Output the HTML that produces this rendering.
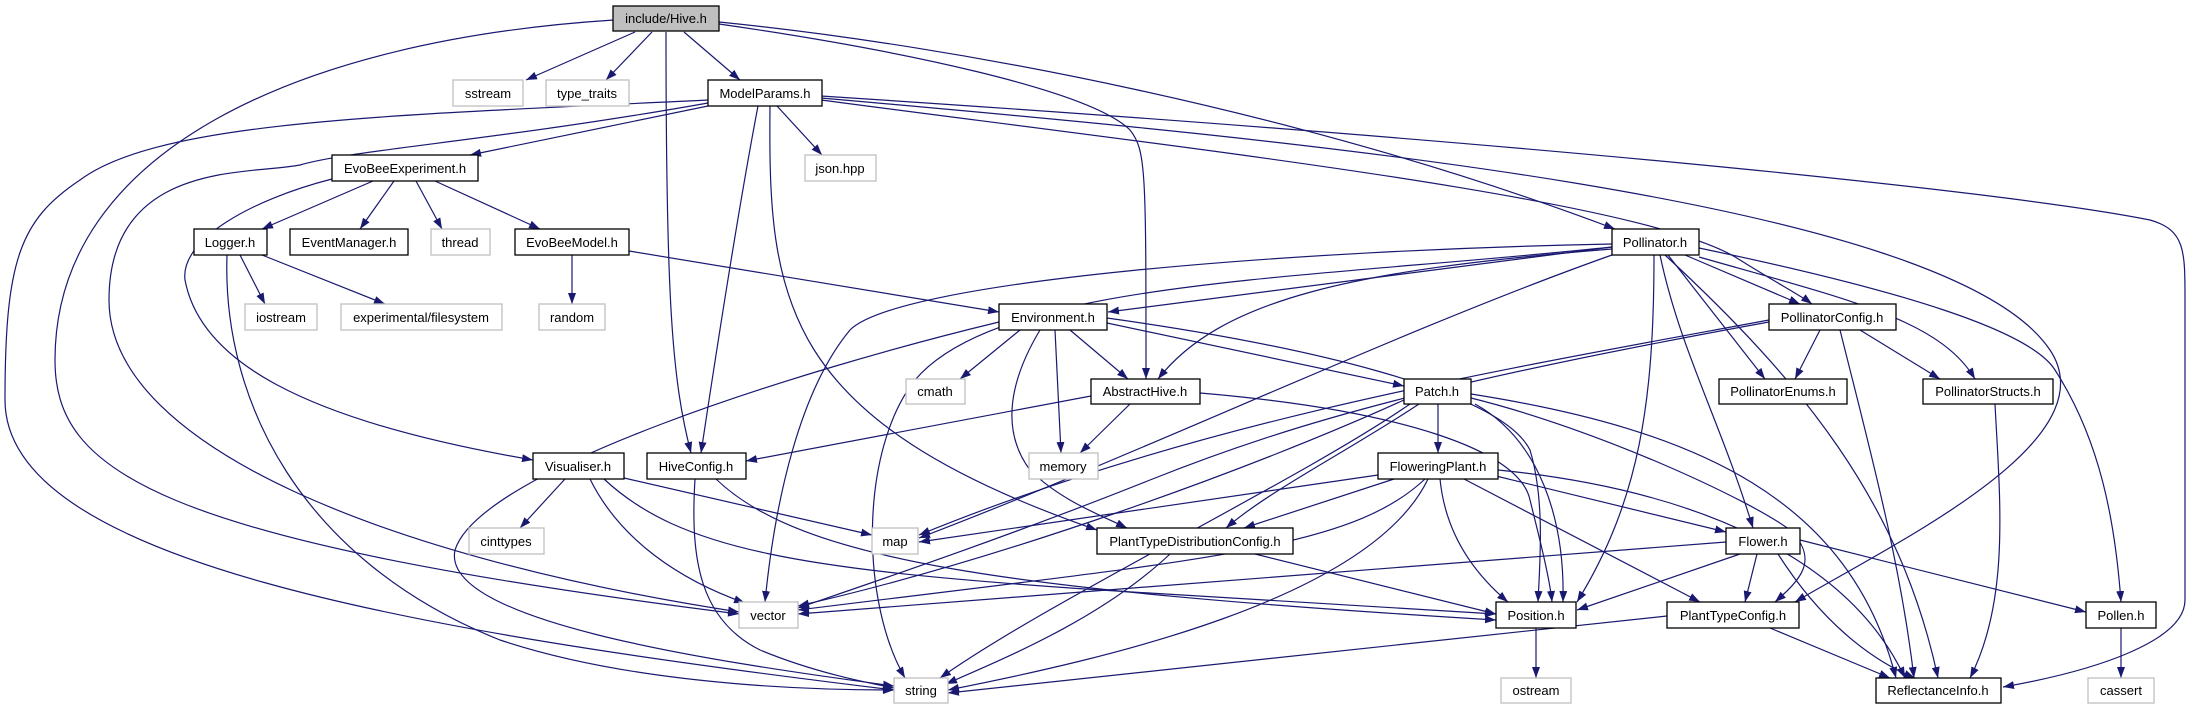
<!DOCTYPE html>
<html><head><meta charset="utf-8"><style>
html,body{margin:0;padding:0;background:#fff;}
svg{display:block;}
text{font-family:"Liberation Sans",Arial,sans-serif;font-size:13px;fill:#000;text-anchor:middle;}
.e{fill:none;stroke:#191970;stroke-width:1.2;marker-end:url(#a);}
.b{fill:#fff;stroke:#000;stroke-width:1.3;}
.g{fill:#fff;stroke:#bfbfbf;stroke-width:1.3;}
</style></head><body>
<svg width="2193" height="709" viewBox="0 0 2193 709" xmlns="http://www.w3.org/2000/svg">
<defs><marker id="a" markerUnits="userSpaceOnUse" markerWidth="11" markerHeight="8" refX="11" refY="4" orient="auto"><path d="M0,0 L11,4 L0,8 z" fill="#191970"/></marker></defs>
<g>
<path class="e" d="M635,32 L526,80"/>
<path class="e" d="M652,32 L606,80"/>
<path class="e" d="M684,32 L740,80"/>
<path class="e" d="M614,20 C300,40 55,150 55,360 C55,470 150,540 739,614"/>
<path class="e" d="M666,32 C666,300 672,380 691,453"/>
<path class="e" d="M719,24 C900,50 1090,90 1130,130 C1146,150 1146,170 1146,379"/>
<path class="e" d="M719,22 C950,45 1300,110 1615,229"/>
<path class="e" d="M708,106 L470,155"/>
<path class="e" d="M777,106 L822,155"/>
<path class="e" d="M708,100 C400,115 160,120 80,180 C20,220 5,260 5,400 C5,560 400,630 894,690"/>
<path class="e" d="M708,103 C500,140 350,150 300,165 C250,175 109,160 109,300 C109,450 400,560 739,612"/>
<path class="e" d="M758,106 C740,200 715,360 701,453"/>
<path class="e" d="M770,106 C768,300 780,420 1097,530"/>
<path class="e" d="M821,100 C1200,150 1650,200 1740,260 C1780,285 1800,295 1812,304"/>
<path class="e" d="M821,98 C1300,140 1950,200 2050,350 C2110,440 1900,540 1795,602"/>
<path class="e" d="M821,96 C1500,140 2000,190 2150,220 C2185,230 2185,250 2185,300 L2185,600 C2185,640 2100,670 2003,687"/>
<path class="e" d="M373,181 L262,229"/>
<path class="e" d="M394,181 L360,229"/>
<path class="e" d="M416,181 L442,229"/>
<path class="e" d="M435,181 L540,229"/>
<path class="e" d="M332,179 C250,200 180,240 185,280 C200,360 300,420 533,460"/>
<path class="e" d="M227,255 C222,400 300,560 500,640 C650,690 850,690 894,690"/>
<path class="e" d="M240,255 L265,304"/>
<path class="e" d="M262,255 L385,304"/>
<path class="e" d="M572,255 L572,304"/>
<path class="e" d="M629,251 L999,312"/>
<path class="e" d="M1020,330 L960,379"/>
<path class="e" d="M1055,330 L1061,453"/>
<path class="e" d="M1070,330 L1128,379"/>
<path class="e" d="M1107,323 L1404,386"/>
<path class="e" d="M1107,318 C1300,345 1500,390 1530,450 C1545,500 1540,560 1538,602"/>
<path class="e" d="M1040,330 C1010,380 1000,430 1030,470 C1060,500 1100,515 1127,528"/>
<path class="e" d="M999,322 C800,370 480,470 455,550 C440,620 700,660 894,686"/>
<path class="e" d="M1612,247 L1108,312"/>
<path class="e" d="M1612,244 C1300,250 900,280 850,330 C800,390 775,500 765,602"/>
<path class="e" d="M1612,247 C1300,280 1000,280 915,380 C860,450 860,600 905,678"/>
<path class="e" d="M1612,249 C1350,270 1220,300 1158,379"/>
<path class="e" d="M1612,255 C1400,330 1150,450 919,538"/>
<path class="e" d="M1685,255 L1800,304"/>
<path class="e" d="M1668,255 L1765,379"/>
<path class="e" d="M1660,255 C1680,350 1720,420 1753,528"/>
<path class="e" d="M1654,255 C1654,400 1640,500 1577,602"/>
<path class="e" d="M1699,257 C1850,300 1940,320 1975,379"/>
<path class="e" d="M1699,248 C1900,290 2030,330 2055,370 C2100,440 2115,520 2121,602"/>
<path class="e" d="M1665,255 C1800,380 1900,500 1938,678"/>
<path class="e" d="M1820,330 L1795,379"/>
<path class="e" d="M1860,330 L1940,379"/>
<path class="e" d="M1840,330 C1870,450 1900,560 1914,678"/>
<path class="e" d="M1769,320 C1500,370 1200,420 919,535"/>
<path class="e" d="M1769,322 C1450,380 1300,420 1150,480 C1000,540 850,590 798,608"/>
<path class="e" d="M1091,396 L746,461"/>
<path class="e" d="M1130,404 L1080,453"/>
<path class="e" d="M1200,393 C1400,410 1520,450 1530,500 C1540,540 1550,580 1552,602"/>
<path class="e" d="M716,479 C800,560 1000,590 1496,620"/>
<path class="e" d="M695,479 C690,560 700,620 760,650 C820,675 880,685 894,688"/>
<path class="e" d="M565,479 L520,528"/>
<path class="e" d="M590,479 C620,540 680,580 745,603"/>
<path class="e" d="M624,478 L872,535"/>
<path class="e" d="M604,479 C680,550 800,570 1100,590 L1496,614"/>
<path class="e" d="M1438,404 L1438,453"/>
<path class="e" d="M1419,404 C1350,450 1270,490 1226,528"/>
<path class="e" d="M1475,404 C1540,440 1565,520 1563,602"/>
<path class="e" d="M1404,400 C1250,470 1000,560 798,606"/>
<path class="e" d="M1410,404 C1300,480 1050,600 940,678"/>
<path class="e" d="M1471,398 C1600,430 1750,500 1790,530 C1820,560 1800,580 1775,602"/>
<path class="e" d="M1471,394 C1700,430 1850,500 1896,678"/>
<path class="e" d="M1394,479 L1244,528"/>
<path class="e" d="M1378,475 L919,542"/>
<path class="e" d="M1496,476 L1726,532"/>
<path class="e" d="M1440,479 C1445,530 1470,570 1508,602"/>
<path class="e" d="M1464,479 L1700,602"/>
<path class="e" d="M1498,470 C1700,490 1850,560 1905,678"/>
<path class="e" d="M1425,479 C1350,550 1200,560 798,610"/>
<path class="e" d="M1428,479 C1370,600 1100,660 948,690"/>
<path class="e" d="M1255,554 L1496,614"/>
<path class="e" d="M1170,554 C1100,620 1000,660 946,684"/>
<path class="e" d="M1726,542 L798,614"/>
<path class="e" d="M1740,554 L1577,610"/>
<path class="e" d="M1757,554 L1745,602"/>
<path class="e" d="M1778,554 C1820,620 1870,660 1915,678"/>
<path class="e" d="M1800,540 L2086,612"/>
<path class="e" d="M1667,616 L948,693"/>
<path class="e" d="M1770,628 L1890,678"/>
<path class="e" d="M1995,404 C2000,500 2010,600 1970,678"/>
<path class="e" d="M2121,628 L2121,678"/>
<path class="e" d="M1536,628 L1536,678"/>
</g>
<g>
<rect x="613" y="6" width="106" height="25" fill="#bfbfbf" stroke="#000" stroke-width="1.3"/><text x="666" y="23">include/Hive.h</text>
<rect class="g" x="453" y="80" width="70" height="26"/><text x="488" y="98">sstream</text>
<rect class="g" x="546" y="80" width="83" height="26"/><text x="587" y="98">type_traits</text>
<rect class="b" x="708" y="80" width="114" height="26"/><text x="765" y="98">ModelParams.h</text>
<rect class="b" x="332" y="155" width="146" height="26"/><text x="405" y="173">EvoBeeExperiment.h</text>
<rect class="g" x="805" y="155" width="71" height="26"/><text x="840" y="173">json.hpp</text>
<rect class="b" x="194" y="229" width="73" height="26"/><text x="230" y="247">Logger.h</text>
<rect class="b" x="290" y="229" width="118" height="26"/><text x="349" y="247">EventManager.h</text>
<rect class="g" x="431" y="229" width="59" height="26"/><text x="460" y="247">thread</text>
<rect class="b" x="515" y="229" width="114" height="26"/><text x="572" y="247">EvoBeeModel.h</text>
<rect class="g" x="245" y="304" width="72" height="26"/><text x="281" y="322">iostream</text>
<rect class="g" x="341" y="304" width="161" height="26"/><text x="421" y="322">experimental/filesystem</text>
<rect class="g" x="539" y="304" width="66" height="26"/><text x="572" y="322">random</text>
<rect class="b" x="999" y="304" width="108" height="26"/><text x="1053" y="322">Environment.h</text>
<rect class="b" x="1612" y="229" width="87" height="26"/><text x="1655" y="247">Pollinator.h</text>
<rect class="b" x="1769" y="304" width="127" height="26"/><text x="1832" y="322">PollinatorConfig.h</text>
<rect class="g" x="906" y="379" width="59" height="25"/><text x="935" y="396">cmath</text>
<rect class="b" x="1091" y="379" width="109" height="25"/><text x="1145" y="396">AbstractHive.h</text>
<rect class="b" x="1404" y="379" width="67" height="25"/><text x="1437" y="396">Patch.h</text>
<rect class="b" x="1719" y="379" width="128" height="25"/><text x="1783" y="396">PollinatorEnums.h</text>
<rect class="b" x="1923" y="379" width="130" height="25"/><text x="1988" y="396">PollinatorStructs.h</text>
<rect class="b" x="533" y="453" width="91" height="26"/><text x="578" y="471">Visualiser.h</text>
<rect class="b" x="647" y="453" width="99" height="26"/><text x="696" y="471">HiveConfig.h</text>
<rect class="g" x="1029" y="453" width="69" height="26"/><text x="1063" y="471">memory</text>
<rect class="b" x="1378" y="453" width="120" height="26"/><text x="1438" y="471">FloweringPlant.h</text>
<rect class="g" x="469" y="528" width="75" height="26"/><text x="506" y="546">cinttypes</text>
<rect class="g" x="872" y="528" width="46" height="26"/><text x="895" y="546">map</text>
<rect class="b" x="1097" y="528" width="196" height="26"/><text x="1195" y="546">PlantTypeDistributionConfig.h</text>
<rect class="b" x="1726" y="528" width="74" height="26"/><text x="1763" y="546">Flower.h</text>
<rect class="g" x="739" y="602" width="59" height="26"/><text x="768" y="620">vector</text>
<rect class="b" x="1496" y="602" width="80" height="26"/><text x="1536" y="620">Position.h</text>
<rect class="b" x="1667" y="602" width="132" height="26"/><text x="1733" y="620">PlantTypeConfig.h</text>
<rect class="b" x="2086" y="602" width="70" height="26"/><text x="2121" y="620">Pollen.h</text>
<rect class="g" x="894" y="678" width="54" height="25"/><text x="921" y="695">string</text>
<rect class="g" x="1501" y="678" width="70" height="25"/><text x="1536" y="695">ostream</text>
<rect class="b" x="1876" y="678" width="125" height="25"/><text x="1938" y="695">ReflectanceInfo.h</text>
<rect class="g" x="2088" y="678" width="66" height="25"/><text x="2121" y="695">cassert</text>
</g>
</svg>
</body></html>
